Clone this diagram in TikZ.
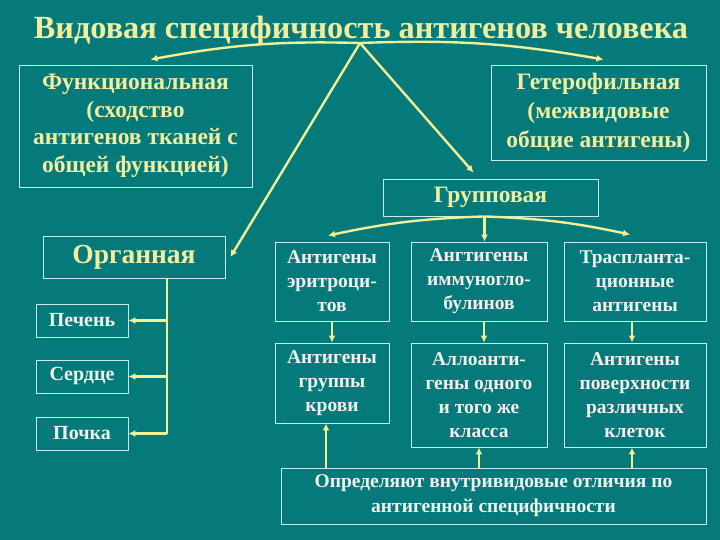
\documentclass[tikz,border=0pt]{standalone}
\usepackage{fontspec}
\setmainfont{Liberation Serif}
\usetikzlibrary{calc,arrows.meta}
\definecolor{bg}{RGB}{4,122,122}
\definecolor{yel}{RGB}{242,238,160}
\definecolor{wht}{RGB}{238,244,236}
\definecolor{brd}{RGB}{200,236,232}
\definecolor{arr}{RGB}{240,240,150}
\begin{document}
\begin{tikzpicture}[x=1pt,y=-1pt,
  box/.style={draw=brd, line width=0.9pt, inner sep=0pt, align=center},
  conn/.style={draw=arr, line width=2.4pt, -{Latex[length=7pt,width=7pt]}},
  plain/.style={draw=arr, line width=2.4pt},
  ytext/.style={text=yel, font=\fontsize{23.5}{27.5}\selectfont\bfseries},
  gtext/.style={text=wht, font=\fontsize{19.5}{24}\selectfont\bfseries},
  otext/.style={text=wht, font=\fontsize{20}{22}\selectfont\bfseries}]
\fill[bg] (0,0) rectangle (720,540);
\useasboundingbox (0,0) rectangle (720,540);

\node[text=yel, font=\fontsize{32.3}{33}\selectfont\bfseries] (title) at (361,31) {Видовая специфичность антигенов человека};
\coordinate (top) at (360,43);

\node[box, ytext, minimum width=233pt, minimum height=122pt] (func) at (135.5,126) {Функциональная\\(сходство\\антигенов тканей с\\общей функцией)};
\node[box, ytext, font=\fontsize{23.5}{29}\selectfont\bfseries, minimum width=215pt, minimum height=95pt] (het) at (598.5,112.5) {Гетерофильная\\(межвидовые\\общие антигены)};
\node[box, ytext, minimum width=215pt, minimum height=37pt] (grp) at (490.5,197.5) {Групповая};
\node[box, text=yel, font=\fontsize{27.5}{29}\selectfont\bfseries, minimum width=182pt, minimum height=42pt] (org) at (134,257) {Органная};

\node[box, otext, minimum width=92pt, minimum height=33pt] (liver) at (82,320.5) {Печень};
\node[box, otext, minimum width=92pt, minimum height=33pt] (heart) at (82,376.5) {Сердце};
\node[box, otext, minimum width=92pt, minimum height=33pt] (kidney) at (82,433.5) {Почка};

\node[box, gtext, minimum width=114pt, minimum height=79pt] (g11) at (332,281.5) {Антигены\\эритроци-\\тов};
\node[box, gtext, minimum width=136pt, minimum height=79pt] (g12) at (479,281.5) {Ангтигены\\иммуногло-\\булинов};
\node[box, gtext, minimum width=142pt, minimum height=79pt] (g13) at (635,281.5) {Траспланта-\\ционные\\антигены};
\node[box, gtext, minimum width=114pt, minimum height=80pt] (g21) at (332,383) {Антигены\\группы\\крови};
\node[box, gtext, minimum width=136pt, minimum height=104pt] (g22) at (479,395) {Аллоанти-\\гены одного\\и того же\\класса};
\node[box, gtext, minimum width=142pt, minimum height=104pt] (g23) at (635,395) {Антигены\\поверхности\\различных\\клеток};
\node[box, gtext, font=\fontsize{19.5}{25}\selectfont\bfseries, minimum width=425pt, minimum height=56pt] (bot) at (493.5,496) {Определяют внутривидовые отличия по\\антигенной специфичности};

% from title
\draw[conn] (top) to[bend right=6] ($(func.north)+(15,-5)$);
\draw[conn] (top) to[bend left=6] ($(het.north)+(5,-5)$);
\draw[conn] (top) -- ($(org.east)+(5,0)$);
\draw[conn] (top) -- ($(grp.north)+(-17,-6)$);

% from group
\coordinate (gb) at ($(grp.south)+(-6,0)$);
\draw[conn] (gb) to[bend right=5] ($(g11.north)+(-4,-6)$);
\draw[conn] (gb) -- (gb |- g12.north);
\draw[conn] (gb) to[bend left=5] ($(g13.north)+(-5,-7)$);

% organ branches
\coordinate (ob) at ($(org.south)+(33,0)$);
\draw[plain] (ob) -- (ob |- kidney);
\draw[conn] (ob |- liver) -- (liver.east);
\draw[conn] (ob |- heart) -- (heart.east);
\draw[conn] (ob |- kidney) -- (kidney.east);

% grid
\draw[conn] (g11.south) -- (g21.north);
\draw[conn] ($(g12.south)+(5,0)$) -- ($(g22.north)+(5,0)$);
\draw[conn] ($(g13.south)+(-3,0)$) -- ($(g23.north)+(-3,0)$);

\draw[conn] ($(bot.north -| g21)+(-6,0)$) -- ($(g21.south)+(-6,0)$);
\draw[conn] (bot.north -| g22) -- (g22.south);
\draw[conn] ($(bot.north -| g23)+(-3,0)$) -- ($(g23.south)+(-3,0)$);
\end{tikzpicture}
\end{document}
